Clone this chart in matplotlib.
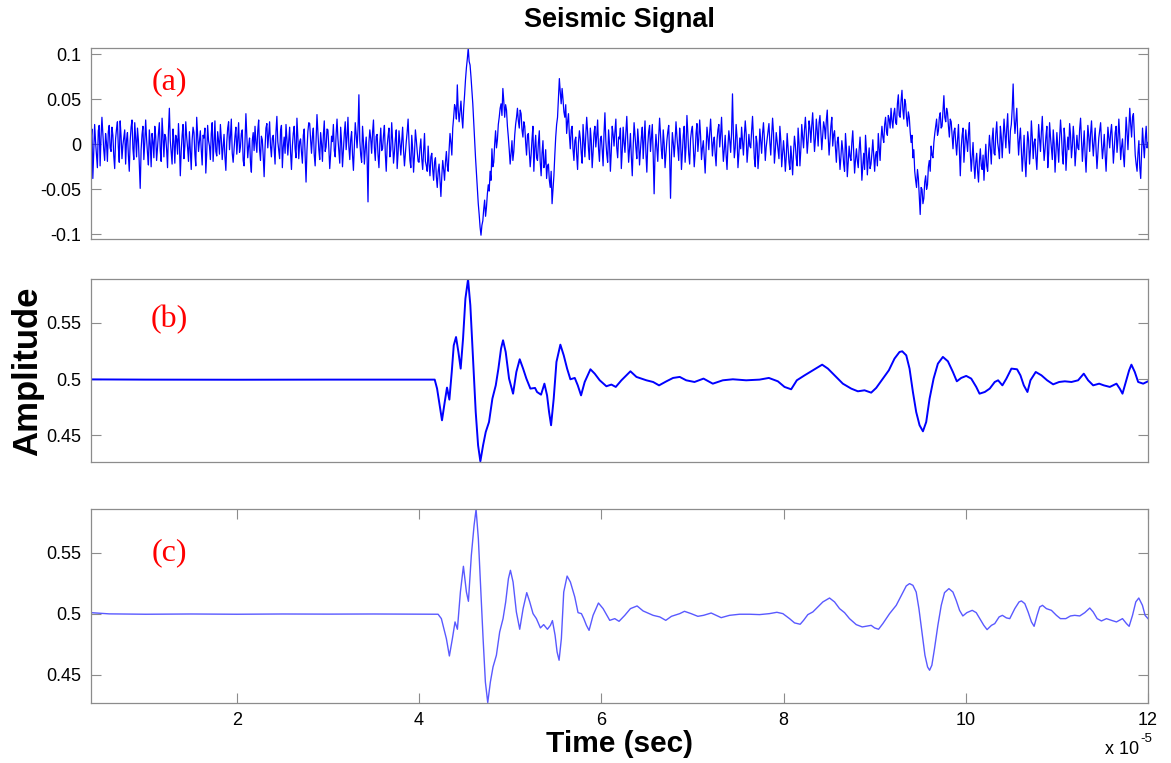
import numpy as np
import matplotlib
matplotlib.use("Agg")
import matplotlib.pyplot as plt

# ---------------- data ----------------
# panel (a): noisy raw signal, uniformly sampled every 0.01 (x1e-5 s) from 0.4 to 12.0
# (one row = 0.2 time units)
a_rows = [
    [0.004, 0.017, -0.038, -0.009, 0.022, 0.003, -0.011, -0.026, 0.015, 0.021, -0.024, 0.008, 0.030, 0.011, -0.006, -0.018, 0.012, 0.002, -0.019, 0.014],
    [0.021, -0.004, -0.008, 0.019, 0.010, -0.013, -0.027, 0.006, 0.017, 0.025, -0.003, -0.020, 0.026, 0.009, -0.016, -0.001, 0.008, 0.016, -0.022, 0.005],
    [0.013, -0.012, -0.030, 0.004, 0.019, 0.027, -0.005, -0.017, 0.024, 0.007, -0.014, 0.018, 0.005, -0.021, -0.049, -0.006, 0.011, 0.020, -0.017, 0.002],
    [0.027, 0.006, -0.010, -0.023, 0.016, 0.001, -0.025, 0.012, 0.003, -0.015, 0.020, 0.009, -0.018, -0.004, 0.012, 0.024, -0.007, -0.019, 0.029, 0.010],
    [-0.014, 0.011, 0.008, -0.006, -0.026, 0.015, 0.040, 0.004, -0.009, -0.022, 0.017, 0.003, -0.021, 0.010, 0.006, -0.011, 0.023, 0.001, -0.035, -0.008],
    [0.010, 0.022, -0.016, -0.002, 0.025, 0.008, -0.004, -0.019, 0.014, -0.007, -0.028, 0.005, 0.019, 0.013, -0.011, -0.024, 0.030, 0.012, -0.008, 0.003],
    [0.015, -0.006, -0.023, 0.010, 0.007, 0.018, -0.032, -0.010, 0.021, 0.004, -0.002, -0.017, 0.012, 0.024, -0.019, 0.001, 0.026, -0.008, -0.013, 0.014],
    [0.004, -0.011, 0.022, 0.006, -0.017, -0.003, 0.011, -0.014, -0.029, 0.002, 0.018, 0.025, -0.006, 0.009, 0.028, -0.010, -0.020, -0.005, 0.009, 0.019],
    [-0.011, 0.005, 0.024, -0.009, -0.003, 0.012, 0.016, -0.018, -0.024, 0.003, 0.034, 0.010, -0.015, -0.002, 0.007, -0.020, -0.031, 0.004, 0.013, -0.007],
    [0.020, 0.002, -0.009, 0.015, 0.027, -0.006, -0.018, 0.009, 0.005, -0.013, -0.036, -0.004, 0.018, 0.023, -0.004, 0.011, 0.025, -0.002, -0.014, 0.007],
    [0.010, -0.005, -0.022, 0.014, 0.031, 0.003, -0.007, -0.016, 0.015, 0.021, -0.026, -0.003, 0.008, -0.010, 0.022, 0.006, -0.012, 0.004, 0.019, -0.009],
    [-0.028, -0.002, 0.012, 0.020, -0.005, -0.015, 0.029, 0.008, -0.016, 0.003, 0.006, -0.009, -0.021, 0.010, 0.017, -0.013, -0.042, -0.007, 0.014, 0.024],
    [0.023, 0.005, -0.010, 0.009, 0.018, -0.012, -0.024, 0.006, 0.033, 0.014, -0.006, -0.017, 0.013, 0.001, -0.019, 0.010, 0.026, -0.008, -0.003, 0.017],
    [0.016, -0.004, -0.027, -0.011, 0.009, 0.003, 0.022, -0.007, -0.014, 0.011, 0.028, 0.006, -0.008, -0.021, 0.019, 0.002, -0.025, -0.006, 0.012, 0.025],
    [-0.006, 0.008, 0.030, -0.003, -0.017, 0.005, 0.014, -0.012, -0.029, -0.001, 0.024, 0.011, -0.004, 0.016, 0.055, 0.004, -0.012, -0.020, 0.020, 0.003],
    [-0.022, -0.005, 0.008, -0.015, -0.064, 0.002, 0.016, 0.006, -0.010, 0.013, 0.027, -0.004, -0.018, 0.009, 0.011, -0.012, -0.026, 0.001, 0.018, -0.007],
    [-0.005, 0.010, 0.021, -0.011, -0.030, -0.002, 0.009, 0.018, -0.014, -0.006, 0.024, 0.004, -0.021, -0.009, 0.006, 0.016, -0.027, -0.010, 0.015, 0.001],
    [-0.012, 0.004, 0.019, -0.007, -0.024, -0.010, 0.003, 0.014, 0.028, 0.002, -0.018, -0.026, 0.010, -0.005, -0.031, -0.012, 0.016, 0.005, -0.008, -0.019],
    [-0.020, -0.004, 0.006, -0.016, -0.028, -0.008, 0.012, -0.019, -0.024, -0.030, -0.002, -0.022, -0.035, -0.014, -0.010, -0.028, -0.040, -0.020, -0.015, -0.036],
    [-0.048, -0.030, -0.022, -0.040, -0.058, -0.035, -0.018, -0.028, -0.040, -0.020, -0.008, -0.024, -0.030, -0.006, 0.012, 0.002, -0.012, 0.018, 0.030, 0.044],
    [0.040, 0.028, 0.066, 0.038, 0.025, 0.036, 0.048, 0.030, 0.018, 0.040, 0.055, 0.072, 0.085, 0.095, 0.107, 0.092, 0.088, 0.075, 0.060, 0.045],
    [0.025, 0.005, -0.015, -0.032, -0.050, -0.066, -0.078, -0.092, -0.101, -0.090, -0.085, -0.072, -0.062, -0.080, -0.070, -0.055, -0.045, -0.052, -0.030, -0.040],
    [-0.005, -0.025, -0.020, 0.000, 0.015, -0.004, 0.005, 0.022, 0.030, 0.040, 0.045, 0.032, 0.062, 0.048, 0.030, 0.044, 0.038, 0.020, 0.008, -0.006],
    [-0.022, -0.010, 0.004, -0.018, -0.008, 0.010, 0.022, 0.030, 0.040, 0.026, 0.018, 0.038, 0.034, 0.016, 0.008, 0.025, 0.020, 0.002, -0.012, 0.010],
    [0.012, -0.008, -0.025, -0.012, 0.006, 0.020, -0.030, -0.004, 0.010, -0.015, -0.018, 0.002, 0.015, -0.020, -0.035, -0.010, 0.004, -0.026, -0.022, -0.006],
    [-0.038, -0.024, -0.022, -0.040, -0.048, -0.030, -0.066, -0.050, -0.035, -0.012, 0.008, 0.022, 0.030, 0.052, 0.073, 0.058, 0.045, 0.062, 0.050, 0.036],
    [0.030, 0.044, 0.012, 0.025, 0.034, 0.010, -0.005, 0.016, 0.020, -0.006, -0.018, 0.004, 0.008, -0.012, -0.028, 0.002, 0.015, 0.006, -0.010, -0.021],
    [0.022, 0.003, -0.014, 0.010, 0.030, 0.014, -0.006, -0.017, 0.018, 0.004, -0.026, -0.009, 0.012, 0.020, -0.003, 0.009, 0.027, -0.005, -0.019, 0.006],
    [0.009, -0.006, -0.024, 0.012, 0.035, 0.004, -0.011, -0.020, 0.016, 0.001, -0.030, -0.008, 0.020, 0.011, -0.002, 0.014, 0.028, -0.004, -0.015, 0.008],
    [0.006, 0.018, -0.027, -0.008, 0.019, 0.002, -0.009, 0.013, 0.031, 0.006, -0.020, -0.005, 0.012, -0.014, -0.035, -0.003, 0.024, 0.010, -0.004, -0.016],
    [0.017, 0.002, -0.023, -0.006, 0.008, 0.019, -0.016, 0.004, 0.026, -0.010, -0.031, -0.001, 0.014, 0.021, -0.008, 0.007, 0.022, -0.013, -0.055, -0.009],
    [0.011, -0.004, -0.019, 0.008, 0.029, 0.012, -0.007, -0.016, 0.016, 0.001, -0.026, -0.010, 0.004, 0.014, 0.021, -0.012, -0.060, -0.015, 0.013, 0.002],
    [-0.014, 0.003, 0.025, 0.009, -0.005, -0.018, 0.018, 0.005, -0.028, -0.009, 0.010, 0.020, -0.020, -0.003, 0.032, 0.012, -0.011, -0.022, 0.006, 0.015],
    [0.020, -0.002, -0.025, -0.010, 0.012, 0.023, -0.008, 0.006, 0.027, 0.009, -0.017, -0.004, 0.004, -0.015, -0.032, -0.007, 0.019, 0.008, -0.006, 0.013],
    [0.028, 0.007, -0.013, 0.002, 0.008, -0.011, -0.024, 0.004, 0.016, 0.022, -0.003, 0.011, 0.030, 0.001, -0.019, -0.006, 0.010, -0.012, -0.028, -0.002],
    [0.015, 0.004, -0.009, 0.013, 0.056, 0.010, -0.015, -0.004, 0.022, 0.008, -0.026, -0.011, 0.007, -0.005, 0.019, 0.003, -0.012, 0.009, 0.026, 0.012],
    [-0.020, -0.006, 0.011, -0.002, -0.004, 0.015, 0.031, 0.008, -0.016, -0.025, 0.009, 0.001, -0.027, -0.012, 0.017, 0.004, -0.010, 0.012, 0.024, 0.006],
    [-0.018, -0.003, 0.006, 0.016, 0.023, 0.002, -0.012, 0.010, 0.029, 0.013, -0.021, -0.007, 0.013, 0.003, -0.006, -0.016, 0.020, 0.005, -0.025, -0.010],
    [0.004, -0.010, -0.030, -0.014, 0.012, -0.004, -0.020, -0.028, -0.002, -0.016, -0.034, -0.009, 0.009, -0.001, -0.016, -0.024, 0.018, 0.002, -0.024, -0.006],
    [0.022, 0.008, -0.004, 0.016, 0.030, 0.012, -0.010, 0.004, 0.026, 0.018, 0.002, 0.021, 0.035, 0.013, -0.008, 0.006, 0.028, 0.015, -0.002, 0.024],
    [0.032, 0.014, -0.006, 0.010, 0.025, 0.019, 0.006, 0.027, 0.038, 0.009, -0.012, 0.005, 0.020, 0.030, -0.002, 0.011, 0.015, -0.004, -0.020, 0.003],
    [0.008, -0.010, -0.028, -0.014, 0.004, -0.006, -0.022, -0.030, 0.012, -0.004, -0.036, -0.020, -0.002, -0.014, -0.018, 0.002, 0.015, -0.009, -0.032, -0.017],
    [-0.005, -0.018, -0.026, -0.006, 0.008, -0.012, -0.040, -0.024, -0.010, -0.028, 0.010, -0.007, -0.034, -0.016, -0.004, -0.027, -0.022, -0.010, 0.005, -0.013],
    [-0.030, -0.012, -0.008, -0.024, 0.012, -0.004, -0.018, 0.006, 0.020, 0.008, 0.002, 0.022, 0.030, 0.014, 0.010, 0.032, 0.028, 0.018, 0.040, 0.026],
    [0.018, 0.034, 0.040, 0.024, 0.022, 0.045, 0.055, 0.032, 0.030, 0.048, 0.060, 0.038, 0.028, 0.050, 0.045, 0.030, 0.020, 0.036, 0.030, 0.014],
    [0.002, 0.010, -0.015, -0.006, -0.030, -0.040, -0.048, -0.028, -0.038, -0.058, -0.078, -0.048, -0.050, -0.066, -0.060, -0.042, -0.035, -0.050, -0.045, -0.025],
    [-0.018, -0.030, -0.002, -0.012, -0.015, 0.002, 0.012, 0.020, 0.028, 0.010, 0.015, 0.030, 0.035, 0.018, 0.020, 0.038, 0.054, 0.030, 0.025, 0.040],
    [0.035, 0.020, 0.008, 0.028, 0.025, 0.010, -0.005, 0.014, 0.018, 0.002, -0.012, 0.006, 0.022, -0.008, -0.035, -0.004, 0.010, 0.018, -0.020, -0.002],
    [0.016, 0.004, -0.008, 0.012, 0.024, -0.010, -0.030, -0.014, 0.002, -0.022, -0.038, -0.020, -0.010, -0.030, -0.042, -0.018, -0.005, -0.024, -0.028, -0.012],
    [-0.040, -0.018, 0.000, -0.024, -0.030, -0.008, 0.010, -0.004, -0.022, 0.006, 0.018, -0.010, -0.012, 0.012, 0.025, 0.002, -0.006, -0.016, 0.020, 0.008],
    [-0.015, 0.006, 0.028, 0.012, -0.004, 0.018, 0.034, 0.004, -0.010, 0.015, 0.022, 0.040, 0.067, 0.030, 0.012, 0.026, 0.040, 0.010, -0.012, 0.006],
    [0.018, -0.006, -0.030, -0.012, 0.010, -0.018, -0.036, -0.008, 0.014, 0.004, -0.022, -0.006, 0.026, 0.008, -0.016, 0.002, 0.006, -0.014, -0.028, -0.004],
    [0.022, 0.006, -0.008, 0.014, 0.031, 0.003, -0.018, -0.006, 0.009, 0.020, -0.026, -0.010, 0.024, 0.008, -0.004, -0.017, 0.016, 0.001, -0.031, -0.009],
    [0.013, -0.003, -0.020, 0.007, 0.027, 0.011, -0.011, -0.022, 0.018, 0.004, -0.029, -0.008, 0.008, -0.006, 0.023, 0.010, -0.015, -0.002, 0.020, 0.005],
    [-0.024, -0.008, 0.010, -0.004, -0.006, 0.017, 0.029, 0.006, -0.019, -0.002, 0.015, -0.012, -0.031, -0.005, 0.021, 0.009, -0.008, 0.012, 0.026, 0.003],
    [-0.013, 0.004, 0.018, -0.006, -0.027, -0.009, 0.007, 0.016, 0.024, 0.002, -0.016, -0.004, 0.011, -0.012, -0.030, -0.005, 0.019, 0.008, -0.004, 0.013],
    [0.022, 0.003, -0.021, -0.005, 0.013, 0.020, -0.009, 0.005, 0.028, 0.009, -0.017, -0.003, 0.006, -0.012, -0.025, 0.004, 0.030, 0.014, -0.006, 0.018],
    [0.040, 0.022, 0.008, 0.030, 0.034, 0.012, -0.012, -0.022, -0.030, -0.010, 0.004, -0.026, -0.038, -0.008, 0.018, 0.000, -0.015, 0.006, 0.020, -0.004],
    [0.002],
]

# panel (b): denoised signal (time in units of 1e-5 s)
b_time = [0.4, 1.0, 2.0, 3.0, 4.0, 4.172, 4.198, 4.227, 4.252, 4.282, 4.307, 4.333,
          4.359, 4.381, 4.406, 4.432, 4.457, 4.483, 4.509, 4.538, 4.563, 4.593, 4.622,
          4.648, 4.673, 4.703, 4.732, 4.768, 4.805, 4.842, 4.871, 4.900, 4.922, 4.951,
          4.988, 5.032, 5.068, 5.105, 5.142, 5.178, 5.222, 5.273, 5.295, 5.339, 5.376,
          5.405, 5.427, 5.449, 5.478, 5.508, 5.551, 5.588, 5.625, 5.661, 5.709, 5.742,
          5.778, 5.818, 5.881, 5.928, 5.983, 6.056, 6.111, 6.159, 6.221, 6.276, 6.320,
          6.386, 6.495, 6.569, 6.634, 6.715, 6.788, 6.861, 6.932, 7.023, 7.122, 7.224,
          7.334, 7.444, 7.590, 7.737, 7.839, 7.938, 8.011, 8.084, 8.146, 8.231, 8.322,
          8.424, 8.487, 8.560, 8.651, 8.743, 8.816, 8.889, 8.962, 9.017, 9.090, 9.156,
          9.218, 9.273, 9.303, 9.347, 9.383, 9.420, 9.456, 9.493, 9.530, 9.566, 9.603,
          9.647, 9.694, 9.749, 9.804, 9.859, 9.902, 9.950, 10.005, 10.060, 10.115,
          10.151, 10.209, 10.263, 10.318, 10.355, 10.402, 10.446, 10.501, 10.563,
          10.600, 10.637, 10.677, 10.710, 10.768, 10.831, 10.893, 10.959, 11.025,
          11.087, 11.160, 11.233, 11.295, 11.343, 11.398, 11.464, 11.515, 11.581,
          11.654, 11.690, 11.720, 11.756, 11.793, 11.818, 11.855, 11.892, 11.947, 12.0]
b_vals = [0.4998, 0.4996, 0.4995, 0.4996, 0.4996, 0.4996, 0.4916, 0.4767, 0.4634, 0.4797,
          0.4925, 0.4818, 0.5064, 0.5301, 0.5375, 0.5242, 0.5094, 0.5361, 0.5717, 0.5889,
          0.5658, 0.5183, 0.4708, 0.4412, 0.4269, 0.4412, 0.4530, 0.4619, 0.4827, 0.4945,
          0.5094, 0.5272, 0.5346, 0.5242, 0.5005, 0.4871, 0.5064, 0.5177, 0.5094, 0.5005,
          0.4916, 0.4922, 0.4886, 0.4862, 0.4960, 0.4856, 0.4708, 0.4590, 0.4827, 0.5153,
          0.5307, 0.5212, 0.5094, 0.4999, 0.5011, 0.4945, 0.4856, 0.4975, 0.5088, 0.5049,
          0.4990, 0.4937, 0.4952, 0.4931, 0.4990, 0.5034, 0.5070, 0.5020, 0.4990, 0.4975,
          0.4945, 0.4981, 0.5011, 0.5020, 0.4990, 0.4975, 0.5005, 0.4960, 0.4990, 0.4999,
          0.4990, 0.4996, 0.5011, 0.4981, 0.4931, 0.4910, 0.4990, 0.5034, 0.5079, 0.5129,
          0.5094, 0.5034, 0.4960, 0.4916, 0.4892, 0.4901, 0.4880, 0.4922, 0.5005, 0.5079,
          0.5183, 0.5242, 0.5248, 0.5212, 0.5094, 0.4886, 0.4708, 0.4590, 0.4536, 0.4619,
          0.4827, 0.5005, 0.5138, 0.5198, 0.5159, 0.5064, 0.4981, 0.5011, 0.5029, 0.5005,
          0.4931, 0.4871, 0.4886, 0.4916, 0.4975, 0.4990, 0.4945, 0.5005, 0.5094, 0.5088,
          0.5034, 0.4945, 0.4886, 0.4990, 0.5064, 0.5034, 0.4990, 0.4954, 0.4975, 0.4981,
          0.4975, 0.4990, 0.5049, 0.4990, 0.4945, 0.4960, 0.4945, 0.4931, 0.4960, 0.4916,
          0.4871, 0.4975, 0.5079, 0.5129, 0.5064, 0.4975, 0.4960, 0.4981]

# panel (c): smoothed signal
c_time = [0.4, 0.6, 1.0, 1.5, 2.0, 2.5, 3.0, 3.5, 4.0, 4.209, 4.245, 4.300, 4.333, 4.366,
          4.395, 4.421, 4.454, 4.487, 4.520, 4.542, 4.574, 4.604, 4.626, 4.651, 4.677,
          4.703, 4.728, 4.754, 4.783, 4.812, 4.849, 4.885, 4.922, 4.951, 4.981, 5.003,
          5.032, 5.068, 5.105, 5.142, 5.182, 5.215, 5.251, 5.288, 5.332, 5.368, 5.409,
          5.442, 5.464, 5.493, 5.515, 5.537, 5.562, 5.588, 5.625, 5.661, 5.709, 5.745,
          5.782, 5.808, 5.837, 5.866, 5.910, 5.969, 6.020, 6.093, 6.148, 6.195, 6.258,
          6.320, 6.393, 6.459, 6.569, 6.642, 6.708, 6.770, 6.861, 6.913, 6.986, 7.060,
          7.122, 7.206, 7.261, 7.316, 7.407, 7.517, 7.627, 7.737, 7.846, 7.927, 7.993,
          8.066, 8.121, 8.183, 8.220, 8.267, 8.322, 8.377, 8.432, 8.505, 8.560, 8.615,
          8.670, 8.724, 8.798, 8.864, 8.926, 8.962, 8.999, 9.043, 9.090, 9.164, 9.237,
          9.303, 9.347, 9.383, 9.420, 9.456, 9.486, 9.519, 9.552, 9.581, 9.603, 9.628,
          9.657, 9.694, 9.731, 9.767, 9.815, 9.859, 9.895, 9.932, 9.968, 10.012, 10.071,
          10.115, 10.154, 10.198, 10.234, 10.282, 10.318, 10.366, 10.402, 10.446, 10.483,
          10.538, 10.585, 10.611, 10.648, 10.684, 10.721, 10.750, 10.783, 10.812, 10.842,
          10.885, 10.940, 10.995, 11.039, 11.098, 11.149, 11.196, 11.251, 11.306, 11.361,
          11.398, 11.442, 11.489, 11.544, 11.599, 11.654, 11.720, 11.764, 11.793, 11.830,
          11.866, 11.899, 11.939, 11.968, 12.0]
c_vals = [0.5008, 0.4998, 0.4995, 0.4997, 0.4995, 0.4997, 0.4996, 0.4997, 0.4996, 0.4995,
          0.4959, 0.4795, 0.4653, 0.4795, 0.4932, 0.4872, 0.5177, 0.5388, 0.5177, 0.5101,
          0.5478, 0.5723, 0.5855, 0.5614, 0.5205, 0.4795, 0.4440, 0.4271, 0.4440, 0.4563,
          0.4659, 0.4850, 0.4959, 0.5096, 0.5287, 0.5355, 0.5259, 0.5014, 0.4872, 0.5041,
          0.5172, 0.5096, 0.5000, 0.4959, 0.4883, 0.4910, 0.4872, 0.4904, 0.4943, 0.4823,
          0.4686, 0.4618, 0.4795, 0.5177, 0.5308, 0.5259, 0.5137, 0.5008, 0.5000, 0.4959,
          0.4904, 0.4863, 0.4986, 0.5087, 0.5041, 0.4945, 0.4959, 0.4937, 0.4986, 0.5041,
          0.5063, 0.5022, 0.4986, 0.4973, 0.4945, 0.4978, 0.5000, 0.5019, 0.5000, 0.4978,
          0.4986, 0.5005, 0.4986, 0.4967, 0.4986, 0.4995, 0.4995, 0.4992, 0.5000, 0.5011,
          0.5000, 0.4959, 0.4924, 0.4913, 0.4945, 0.4992, 0.5014, 0.5055, 0.5096, 0.5128,
          0.5096, 0.5041, 0.5008, 0.4959, 0.4910, 0.4891, 0.4899, 0.4904, 0.4883, 0.4872,
          0.4918, 0.5000, 0.5068, 0.5164, 0.5227, 0.5246, 0.5232, 0.5177, 0.5041, 0.4850,
          0.4659, 0.4563, 0.4536, 0.4577, 0.4713, 0.4904, 0.5068, 0.5172, 0.5205, 0.5177,
          0.5109, 0.5027, 0.4981, 0.5008, 0.5027, 0.5008, 0.4959, 0.4904, 0.4869, 0.4904,
          0.4918, 0.4973, 0.4986, 0.4965, 0.4959, 0.5041, 0.5096, 0.5104, 0.5082, 0.5014,
          0.4932, 0.4896, 0.4986, 0.5055, 0.5068, 0.5041, 0.5027, 0.4986, 0.4959, 0.4959,
          0.4981, 0.4986, 0.4981, 0.5008, 0.5046, 0.5014, 0.4959, 0.4940, 0.4959, 0.4945,
          0.4932, 0.4959, 0.4918, 0.4896, 0.4986, 0.5096, 0.5128, 0.5068, 0.4986, 0.4959]

panel_tags = ["(a)", "(b)", "(c)"]
x_ticks = [2, 4, 6, 8, 10, 12]
x_ticklabels = ["2", "4", "6", "8", "10", "12"]
a_yticks = [-0.1, -0.05, 0, 0.05, 0.1]
a_yticklabels = ["-0.1", "-0.05", "0", "0.05", "0.1"]
bc_yticks = [0.45, 0.5, 0.55]
bc_yticklabels = ["0.45", "0.5", "0.55"]

# ---------------- figure ----------------
W, H = 1171, 763
fig = plt.figure(figsize=(W / 100, H / 100), dpi=100)
plt.rcParams['font.family'] = ['Liberation Sans', 'DejaVu Sans']

def px_axes(left, top, right, bottom):
    return fig.add_axes([left / W, 1 - bottom / H, (right - left) / W, (bottom - top) / H])

ax_a = px_axes(91, 47.7, 1148, 238.7)
ax_b = px_axes(91, 278.7, 1148, 462.0)
ax_c = px_axes(91, 508.7, 1148, 702.7)

a_vals = [v for row in a_rows for v in row]
a_time = np.linspace(0.4, 12.0, len(a_vals))

ax_a.plot(a_time, a_vals, color=(0.0, 0.0, 1.0), lw=0.9)
ax_b.plot(b_time, b_vals, color=(0.0, 0.0, 1.0), lw=1.4)
ax_c.plot(c_time, c_vals, color=(0.35, 0.35, 1.0), lw=1.0)

frame_col = '#8c8c8c'
for ax in (ax_a, ax_b, ax_c):
    ax.set_xlim(0.4, 12.0)
    for s in ax.spines.values():
        s.set_color(frame_col)
        s.set_linewidth(0.9)
    ax.tick_params(axis='both', direction='in', length=7, width=0.8, color=frame_col,
                   labelsize=13, labelcolor='black', right=True, top=True)
    ax.tick_params(axis='y', pad=7)

ax_a.set_ylim(-0.1049, 0.1073)
ax_a.set_yticks(a_yticks)
ax_a.set_yticklabels(a_yticklabels)
ax_b.set_ylim(0.4263, 0.5894)
ax_c.set_ylim(0.427, 0.586)
for ax in (ax_b, ax_c):
    ax.set_yticks(bc_yticks)
    ax.set_yticklabels(bc_yticklabels)

for ax in (ax_a, ax_b):
    ax.set_xticks([])
ax_c.set_xticks(x_ticks)
ax_c.set_xticklabels(x_ticklabels)
ax_c.tick_params(axis='x', pad=7)

for ax, tag, yf in zip((ax_a, ax_b, ax_c), panel_tags, (0.82, 0.775, 0.775)):
    ax.text(0.074, yf, tag, transform=ax.transAxes, color='red', ha='center', va='center',
            fontsize=23, family=['Liberation Serif', 'DejaVu Serif'])

fig.text(619.5 / W, 1 - 20 / H, 'Seismic Signal', ha='center', va='center',
         fontsize=19.5, fontweight='bold')
fig.text(28 / W, 1 - 371 / H, 'Amplitude', ha='center', va='center', rotation=90,
         fontsize=25, fontweight='bold')
fig.text(619.5 / W, 1 - 744 / H, 'Time (sec)', ha='center', va='center',
         fontsize=21.5, fontweight='bold')
fig.text(1139 / W, 1 - 749 / H, 'x 10', ha='right', va='center', fontsize=13)
fig.text(1140 / W, 1 - 739 / H, '-5', ha='left', va='center', fontsize=9.5)

fig.savefig('out.png', dpi=100, facecolor='white')
